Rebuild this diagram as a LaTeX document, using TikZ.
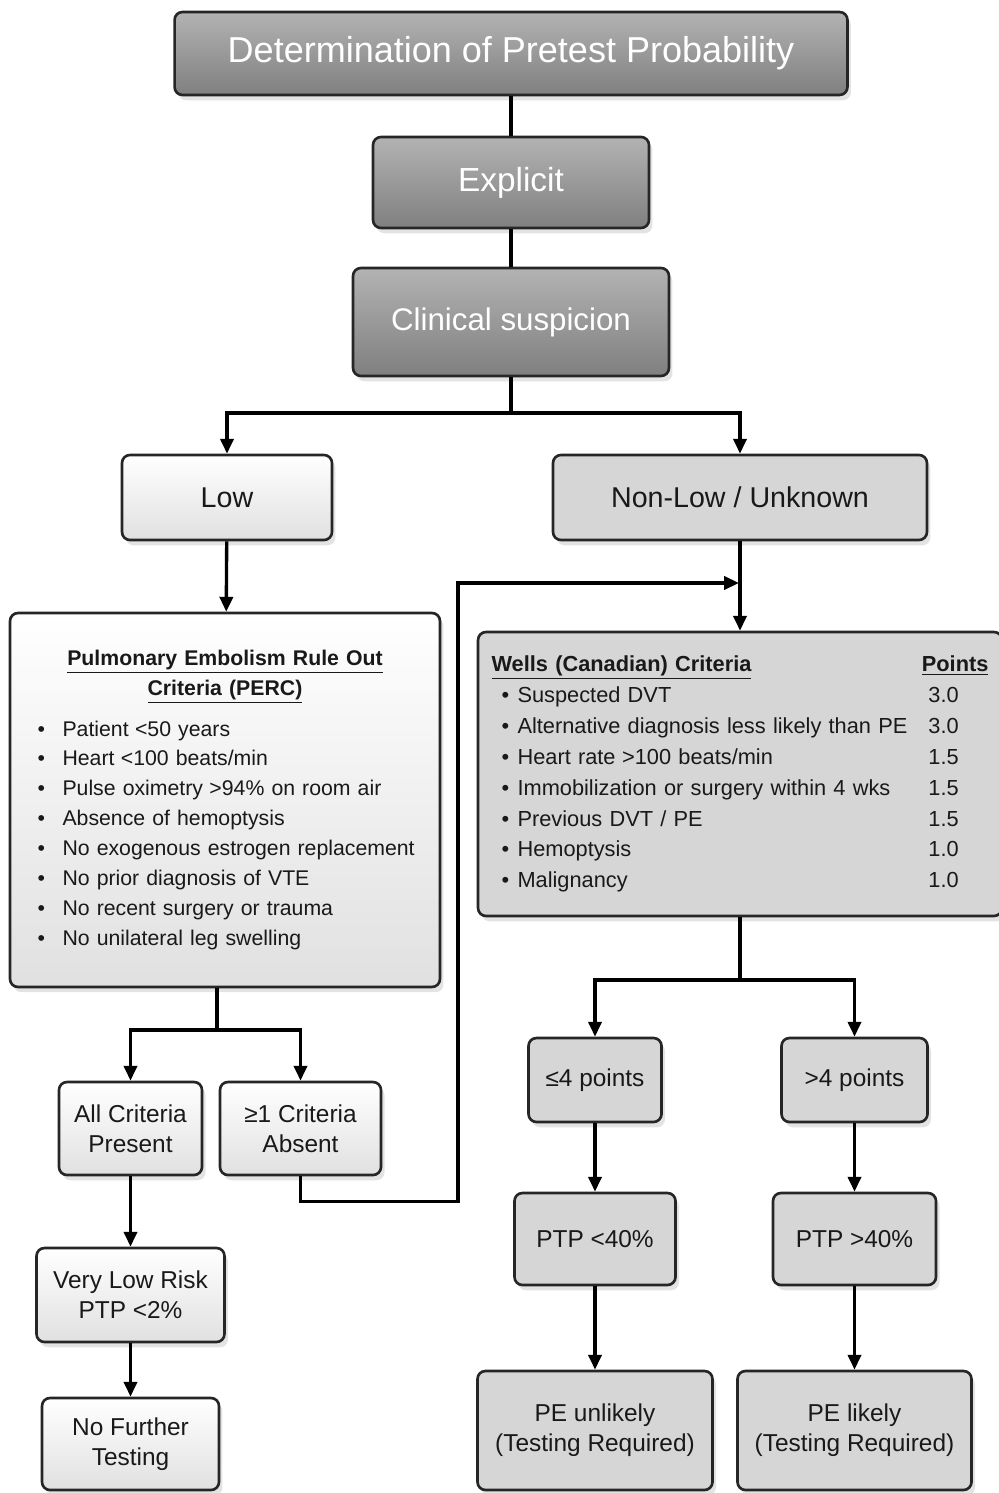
\documentclass[tikz,border=0pt]{standalone}
\usepackage{fontspec}
\setmainfont{Liberation Sans}
\usetikzlibrary{arrows.meta,shadows}

\tikzset{
    box/.style={draw=black!85, line width=1.5pt, rounded corners=4.5pt, inner sep=0pt, align=center,
        text=black!90, drop shadow={opacity=0.22, shadow xshift=2pt, shadow yshift=-3pt}},
    darkbox/.style={box, top color=black!30, bottom color=black!50, text=white},
    lightbox/.style={box, top color=white, bottom color=black!12},
    graybox/.style={box, fill=black!16},
    conn/.style={line width=1.9pt, black},
    arr/.style={conn, -{Triangle[length=8.5pt, width=7.5pt]}},
}

\newcommand{\pitem}[1]{\makebox[0.8cm][l]{\hspace{0.3cm}\textbullet}#1}
\newcommand{\witem}[2]{\makebox[0.52cm][l]{\hspace{0.2cm}\textbullet}#1\hfill\makebox[1.2cm][l]{#2}}
\newcommand{\gap}{\hspace{0.3em}}

\begin{document}
\begin{tikzpicture}[x=0.02cm, y=-0.02cm]
\useasboundingbox (0,0) rectangle (998,1493);

% top of the chart
\node[darkbox, minimum width=13.46cm, minimum height=1.66cm, font=\fontsize{20.5}{24}\selectfont] (title) at (511,53.5) {Determination of Pretest Probability};
\node[darkbox, minimum width=5.52cm, minimum height=1.82cm, font=\fontsize{19}{22}\selectfont] (explicit) at (511,182.5) {Explicit};
\node[darkbox, minimum width=6.32cm, minimum height=2.16cm, font=\fontsize{17.8}{21}\selectfont] (clinical) at (511,322) {Clinical suspicion};

\node[lightbox, minimum width=4.2cm, minimum height=1.7cm, font=\fontsize{16.3}{19}\selectfont] (low) at (227,497.5) {Low};
\node[graybox, minimum width=7.48cm, minimum height=1.7cm, font=\fontsize{16.3}{19}\selectfont] (nonlow) at (740,497.5) {Non-Low / Unknown};

% PERC side
\node[lightbox, minimum width=8.6cm, minimum height=7.48cm, text width=8.1cm, align=left, font=\fontsize{12.1}{17}\selectfont] (perc) at (225,800) {%
\makebox[8.1cm][c]{\bfseries\underline{Pulmonary Embolism Rule Out}}\\
\makebox[8.1cm][c]{\bfseries\underline{Criteria (PERC)}}\\[6pt]
\pitem{Patient\gap <50 years}\\
\pitem{Heart\gap <100 beats/min}\\
\pitem{Pulse oximetry\gap >94\% on room air}\\
\pitem{Absence of hemoptysis}\\
\pitem{No exogenous estrogen replacement}\\
\pitem{No prior diagnosis of VTE}\\
\pitem{No recent surgery or trauma}\\
\pitem{No unilateral leg swelling}};

\node[lightbox, minimum width=2.86cm, minimum height=1.86cm, font=\fontsize{13.9}{17}\selectfont] (allc) at (130.5,1128.5) {All Criteria\\Present};
\node[lightbox, minimum width=3.22cm, minimum height=1.86cm, font=\fontsize{13.9}{17}\selectfont] (absent) at (300.5,1128.5) {≥1 Criteria\\Absent};
\node[lightbox, minimum width=3.76cm, minimum height=1.88cm, font=\fontsize{13.9}{17}\selectfont] (verylow) at (130.5,1295) {Very Low Risk\\PTP <2\%};
\node[lightbox, minimum width=3.54cm, minimum height=1.84cm, font=\fontsize{13.9}{17}\selectfont] (nofurther) at (130.5,1444) {No Further\\Testing};

% Wells side
\node[graybox, minimum width=10.48cm, minimum height=5.68cm, text width=9.94cm, align=left, font=\fontsize{12.4}{17.6}\selectfont] (wells) at (740,774) {%
{\bfseries\underline{Wells (Canadian) Criteria}}\hfill{\bfseries\underline{Points}}\\
\witem{Suspected DVT}{3.0}\\
\witem{Alternative diagnosis less likely than PE}{3.0}\\
\witem{Heart rate\gap >100 beats/min}{1.5}\\
\witem{Immobilization or surgery within 4 wks}{1.5}\\
\witem{Previous DVT / PE}{1.5}\\
\witem{Hemoptysis}{1.0}\\
\witem{Malignancy}{1.0}};

\node[graybox, minimum width=2.66cm, minimum height=1.68cm, font=\fontsize{13.9}{17}\selectfont] (le4) at (595,1080) {≤4 points};
\node[graybox, minimum width=2.92cm, minimum height=1.68cm, font=\fontsize{13.9}{17}\selectfont] (gt4) at (854.5,1080) {>4 points};
\node[graybox, minimum width=3.22cm, minimum height=1.84cm, font=\fontsize{13.9}{17}\selectfont] (ptplo) at (595,1239) {PTP <40\%};
\node[graybox, minimum width=3.26cm, minimum height=1.84cm, font=\fontsize{13.9}{17}\selectfont] (ptphi) at (854.5,1239) {PTP >40\%};
\node[graybox, minimum width=4.7cm, minimum height=2.38cm, font=\fontsize{13.9}{17}\selectfont] (peunl) at (595,1430.5) {PE unlikely\\(Testing Required)};
\node[graybox, minimum width=4.68cm, minimum height=2.38cm, font=\fontsize{13.9}{17}\selectfont] (pelik) at (854.5,1430.5) {PE likely\\(Testing Required)};

% branch points
\coordinate (split1) at (511,413);
\coordinate (psplit) at (217,1030);
\coordinate (wsplit) at (740,980);
\coordinate (loopup) at (458,583);
\coordinate (merge) at (739,583);

% connectors
\draw[conn] (title) -- (explicit);
\draw[conn] (explicit) -- (clinical);
\draw[conn] (clinical.south) -- (split1);
\draw[arr] (split1) -| (low.north);
\draw[arr] (split1) -| (nonlow.north);
\draw[arr] (low) -- (perc);
\draw[arr] (nonlow) -- (wells);

\draw[conn] (psplit |- perc.south) -- (psplit);
\draw[arr] (psplit) -| (allc.north);
\draw[arr] (psplit) -| (absent.north);
\draw[arr] (allc) -- (verylow);
\draw[arr] (verylow) -- (nofurther);
\draw[arr] (absent.south) -- ++(0,25) -| (loopup) -- (merge);

\draw[conn] (wells.south) -- (wsplit);
\draw[arr] (wsplit) -| (le4.north);
\draw[arr] (wsplit) -| (gt4.north);
\draw[arr] (le4) -- (ptplo);
\draw[arr] (ptplo) -- (peunl);
\draw[arr] (gt4) -- (ptphi);
\draw[arr] (ptphi) -- (pelik);

\end{tikzpicture}
\end{document}
